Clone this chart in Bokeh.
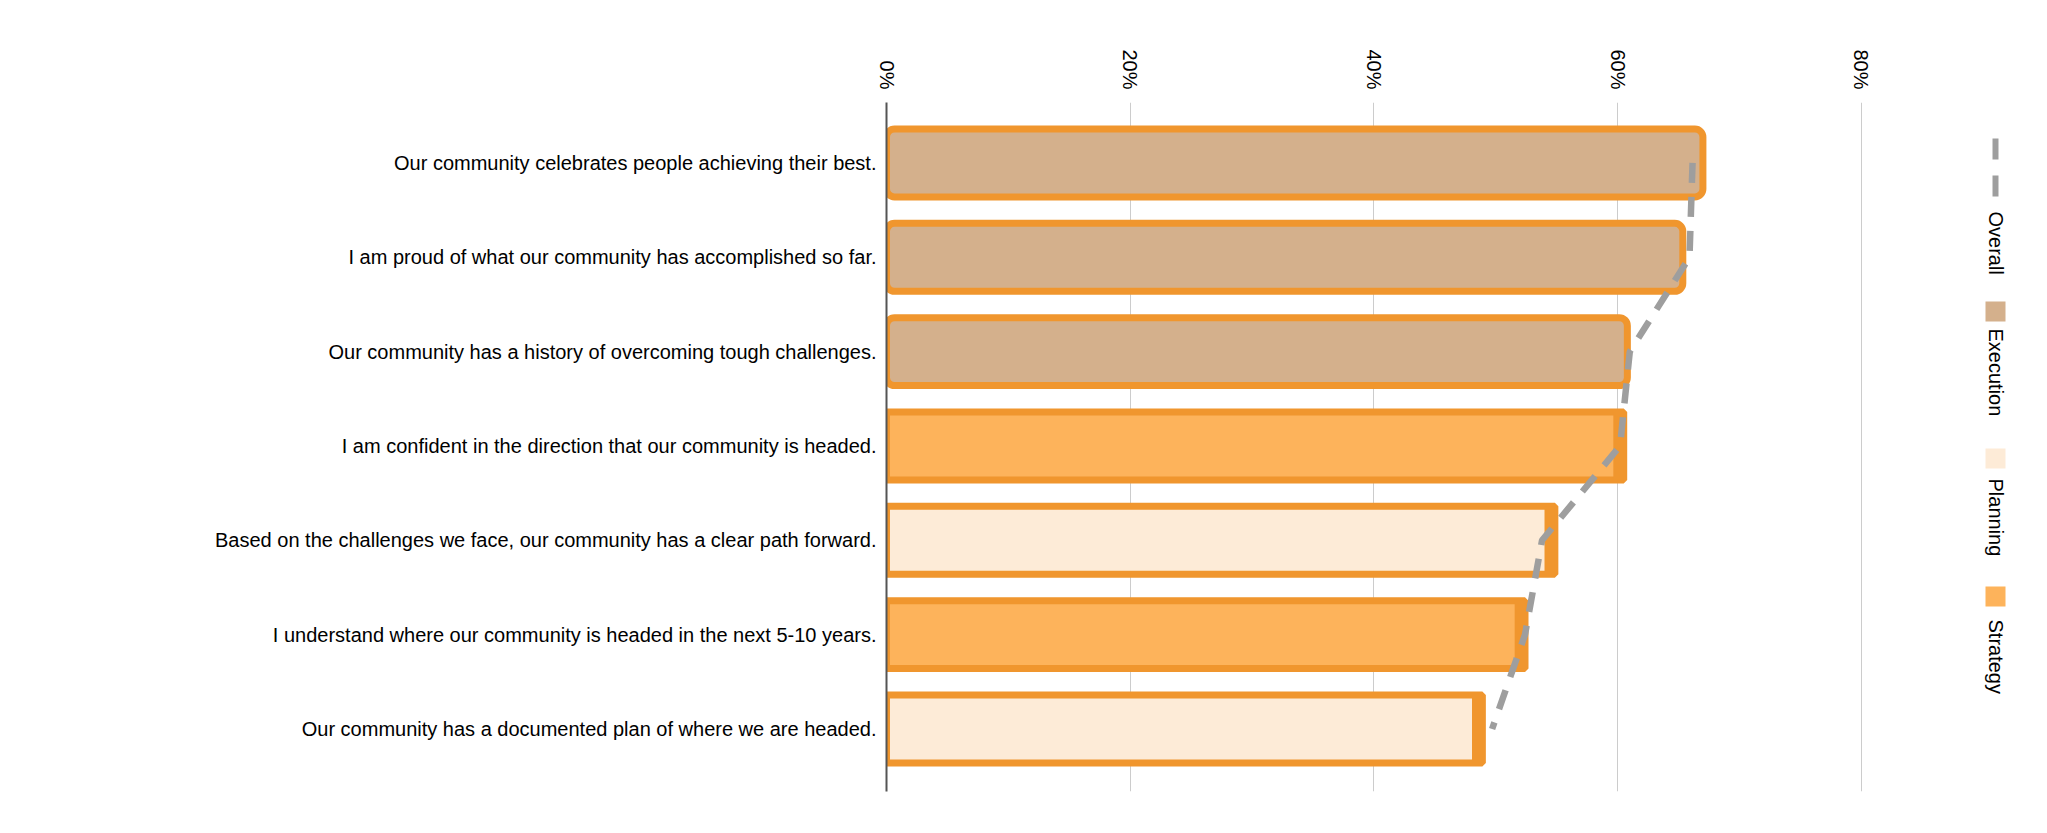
import math
from bokeh.plotting import figure
from bokeh.models import Range1d, FixedTicker, ColumnDataSource
from bokeh.layouts import row
from bokeh.embed import file_html
from bokeh.resources import INLINE
from bokeh.core.properties import value

# ---------------- data ----------------
categories = [
    "Our community celebrates people achieving their best.",
    "I am proud of what our community has accomplished so far.",
    "Our community has a history of overcoming tough challenges.",
    "I am confident in the direction that our community is headed.",
    "Based on the challenges we face, our community has a clear path forward.",
    "I understand where our community is headed in the next 5-10 years.",
    "Our community has a documented plan of where we are headed.",
]
groups = ["Execution", "Execution", "Execution", "Strategy", "Planning", "Strategy", "Planning"]
values = [67.0, 65.35, 60.8, 60.5, 54.85, 52.4, 48.9]
overall = [66.15, 65.9, 61.0, 60.2, 53.8, 52.4, 49.7]
tick_values = [0, 20, 40, 60, 80]
tick_labels = ["0%", "20%", "40%", "60%", "80%"]
legend_items = ["Overall", "Execution", "Planning", "Strategy"]

group_colors = {"Execution": "#D4B08C", "Planning": "#FDEBD7", "Strategy": "#FDB35B"}
STROKE = "#F0962E"
LINE = "#9E9E9E"
FONT = "Liberation Sans"

W_MAIN, W_LEG, H = 1888, 142, 816
F_TOP, F_BOT = 102, 791

idx = list(range(len(categories)))

p = figure(width=W_MAIN, height=H, output_backend="svg", toolbar_location=None,
           x_range=Range1d(0, 81), y_range=Range1d(6.663, -0.641),
           x_axis_location="above",
           min_border_left=886, min_border_right=W_MAIN - 1873,
           min_border_top=F_TOP, min_border_bottom=H - F_BOT)
p.outline_line_color = None
p.background_fill_color = "white"
p.border_fill_color = "white"

# axes
xa = p.xaxis[0]
xa.ticker = FixedTicker(ticks=tick_values)
xa.major_label_overrides = {t: l for t, l in zip(tick_values, tick_labels)}
xa.major_label_orientation = -math.pi / 2
xa.axis_line_color = None
xa.major_tick_line_color = None
xa.minor_tick_line_color = None
xa.major_tick_out = 0
xa.minor_tick_out = 0
xa.major_label_text_font = FONT
xa.major_label_text_font_size = "20px"
xa.major_label_text_color = "#000000"
xa.major_label_standoff = 13

ya = p.yaxis[0]
ya.ticker = FixedTicker(ticks=idx)
ya.major_label_overrides = {i: c for i, c in zip(idx, categories)}
ya.axis_line_color = "#555555"
ya.axis_line_width = 2
ya.major_tick_line_color = None
ya.minor_tick_line_color = None
ya.major_tick_out = 0
ya.minor_tick_out = 0
ya.major_label_text_font = FONT
ya.major_label_text_font_size = "20px"
ya.major_label_text_color = "#000000"
ya.major_label_standoff = 10

p.ygrid.grid_line_color = None
p.xgrid.ticker = FixedTicker(ticks=tick_values)
p.xgrid.grid_line_color = "#CCCCCC"
p.xgrid.grid_line_width = 1

# bars
exec_i = [i for i, g in enumerate(groups) if g == "Execution"]
other_i = [i for i, g in enumerate(groups) if g != "Execution"]

def sub(ix):
    return ColumnDataSource(dict(
        y=[idx[i] for i in ix], v=[values[i] for i in ix],
        vl=[values[i] - 0.85 for i in ix],
        color=[group_colors[groups[i]] for i in ix],
    ))

s_exec = sub(exec_i)
s_other = sub(other_i)
p.hbar(y="y", left=0, right="v", height=0.72, source=s_exec, fill_color="color",
       line_color=STROKE, line_width=7, border_radius=8)
p.hbar(y="y", left=0, right="v", height=0.72, source=s_other, fill_color="color",
       line_color=STROKE, line_width=7)
p.hbar(y="y", left="vl", right="v", height=0.72, source=s_other, fill_color=STROKE,
       line_color=None)

# overall line
p.line(x=overall, y=idx, line_color=LINE, line_width=6.5, line_dash="20 14")

# ---------------- legend (separate figure, frame aligned with main frame) ----------------
leg = figure(width=W_LEG, height=H, output_backend="svg", toolbar_location=None,
             x_range=Range1d(0, W_LEG), y_range=Range1d(-F_BOT, -F_TOP),
             x_axis_type=None, y_axis_type=None,
             min_border_left=0, min_border_right=0,
             min_border_top=F_TOP, min_border_bottom=H - F_BOT)
leg.outline_line_color = None
leg.xgrid.visible = False
leg.ygrid.visible = False
leg.background_fill_color = "white"
leg.border_fill_color = "white"

def ly(Y):
    return -Y

lx = 1995 - W_MAIN
leg.segment(x0=[lx], y0=[ly(138)], x1=[lx], y1=[ly(197)], line_color=LINE,
            line_width=6, line_dash="21 16")
sq_y = [311, 458, 596]
for g, Y in zip(legend_items[1:], sq_y):
    leg.scatter(x=[lx], y=[ly(Y)], marker="square", size=20,
                fill_color=group_colors[g], line_color=None)
text_y = [211, 328, 478, 619]
leg.text(x=[lx] * 4, y=[ly(Y) for Y in text_y], text=legend_items,
         angle=-math.pi / 2, text_align="left", text_baseline="middle",
         text_font=value(FONT), text_font_size="20px", text_color="#000000")

layout = row(p, leg)
open("out.html", "w").write(file_html(layout, INLINE))
